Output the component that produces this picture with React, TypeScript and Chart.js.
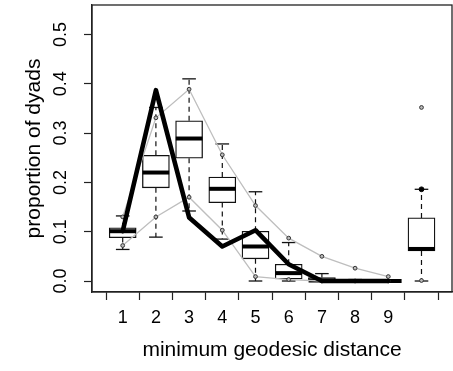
import React, { useEffect, useRef } from 'react';
import { Chart, registerables } from 'chart.js';

Chart.register(...registerables);

// ---- data ----
const positions = [1, 2, 3, 4, 5, 6, 7, 8, 9, 10];
const xTickLabels = ['1', '2', '3', '4', '5', '6', '7', '8', '9', ''];
const yTickValues = [0, 0.1, 0.2, 0.3, 0.4, 0.5];
const yTickLabels = ['0.0', '0.1', '0.2', '0.3', '0.4', '0.5'];

const whiskerLow = [0.064, 0.089, 0.142, 0.085, 0.0, 0.0, 0.0, 0.0, 0.0, 0.0];
const boxQ1 = [0.088, 0.189, 0.249, 0.159, 0.045, 0.004, 0.0, 0.0, 0.0, 0.061];
const boxMedian = [0.101, 0.22, 0.289, 0.187, 0.07, 0.016, 0.001, 0.0, 0.0, 0.065];
const boxQ3 = [0.108, 0.255, 0.325, 0.211, 0.101, 0.034, 0.007, 0.002, 0.0, 0.128];
const whiskerHigh = [0.132, 0.352, 0.41, 0.278, 0.181, 0.078, 0.015, 0.003, 0.001, 0.186];

const simUpper = [0.13, 0.331, 0.389, 0.256, 0.153, 0.087, 0.05, 0.026, 0.009, 0.352];
const simLower = [0.072, 0.13, 0.17, 0.103, 0.009, 0.003, 0.0, 0.0, 0.0, 0.001];

const observed = [0.101, 0.387, 0.129, 0.07, 0.103, 0.034, 0.0, 0.0, 0.0, 0.186];

const xTitle = 'minimum geodesic distance';
const yTitle = 'proportion of dyads';

const FONT = 'Liberation Sans, Arial, Helvetica, sans-serif';

const framePlugin = {
  id: 'frame',
  afterDraw(chart: any) {
    const { ctx, chartArea } = chart;
    const { left, top, right, bottom } = chartArea;
    ctx.save();
    ctx.strokeStyle = '#222';
    ctx.lineWidth = 1.3;
    ctx.strokeRect(left, top, right - left, bottom - top);
    ctx.restore();
  },
};

export default function App() {
  const ref = useRef<HTMLCanvasElement | null>(null);

  useEffect(() => {
    if (!ref.current) return;
    const n = positions.length;
    const lineIdx = positions.slice(0, n - 1);

    const whiskerSets: any[] = [];
    positions.forEach((p, i) => {
      whiskerSets.push({
        type: 'line',
        data: [
          { x: p, y: boxQ3[i] },
          { x: p, y: whiskerHigh[i] },
        ],
        borderColor: '#111',
        borderWidth: 1.2,
        borderDash: [5, 4],
        pointRadius: 0,
        order: 5,
      });
      whiskerSets.push({
        type: 'line',
        data: [
          { x: p, y: boxQ1[i] },
          { x: p, y: whiskerLow[i] },
        ],
        borderColor: '#111',
        borderWidth: 1.2,
        borderDash: [5, 4],
        pointRadius: 0,
        order: 5,
      });
    });

    const chart = new Chart(ref.current, {
      type: 'bar',
      data: {
        datasets: [
          {
            type: 'line',
            data: lineIdx.map((p, i) => ({ x: p, y: observed[i] })),
            borderColor: '#000',
            borderWidth: 4.6,
            borderJoinStyle: 'round',
            borderCapStyle: 'round',
            pointRadius: 0,
            tension: 0,
            order: 0,
          } as any,
          {
            type: 'scatter',
            data: [{ x: positions[n - 1], y: observed[n - 1] }],
            pointRadius: 2.4,
            pointBackgroundColor: '#000',
            pointBorderColor: '#000',
            order: 0,
          },
          {
            type: 'line',
            data: lineIdx.map((p, i) => ({ x: p, y: simUpper[i] })),
            borderColor: '#bebebe',
            borderWidth: 1.3,
            pointRadius: 0,
            tension: 0,
            order: 2,
          },
          {
            type: 'line',
            data: lineIdx.map((p, i) => ({ x: p, y: simLower[i] })),
            borderColor: '#bebebe',
            borderWidth: 1.3,
            pointRadius: 0,
            tension: 0,
            order: 2,
          },
          {
            type: 'scatter',
            data: [
              ...positions.map((p, i) => ({ x: p, y: simUpper[i] })),
              ...positions.map((p, i) => ({ x: p, y: simLower[i] })),
            ],
            pointRadius: 1.9,
            pointBorderWidth: 1,
            pointBorderColor: '#333',
            pointBackgroundColor: '#bbb',
            order: 1,
          },
          {
            type: 'scatter',
            data: positions.map((p, i) => ({ x: p, y: boxMedian[i] })),
            pointStyle: 'line',
            pointRadius: 13.3,
            pointBorderWidth: 4,
            pointBorderColor: '#000',
            order: 3,
          },
          {
            type: 'bar',
            data: positions.map((p, i) => ({ x: p, y: [boxQ1[i], boxQ3[i]] })),
            backgroundColor: '#ffffff',
            borderColor: '#111',
            borderWidth: 1.3,
            borderSkipped: false,
            barThickness: 27,
            order: 4,
          },
          ...whiskerSets,
          {
            type: 'scatter',
            data: [
              ...positions.map((p, i) => ({ x: p, y: whiskerHigh[i] })),
              ...positions.map((p, i) => ({ x: p, y: whiskerLow[i] })),
            ],
            pointStyle: 'line',
            pointRadius: 6.8,
            pointBorderWidth: 1.3,
            pointBorderColor: '#111',
            order: 5,
          },
        ],
      },
      options: {
        animation: false,
        responsive: false,
        events: [],
        layout: { padding: { left: 0, top: 5, right: 1, bottom: 0 }, autoPadding: false },
        plugins: { legend: { display: false }, tooltip: { enabled: false } },
        scales: {
          x: {
            type: 'linear',
            min: 0.0753,
            max: 10.919,
            offset: false,
            afterBuildTicks: (scale: any) => {
              scale.ticks = positions.map((v) => ({ value: v }));
            },
            afterFit: (scale: any) => {
              scale.height = 79;
              scale.paddingLeft = 0;
              scale.paddingRight = 0;
            },
            grid: {
              display: true,
              drawOnChartArea: false,
              drawTicks: true,
              tickLength: 8,
              tickColor: '#222',
              tickWidth: 1.2,
            },
            border: { display: true, color: '#222', width: 1.3 },
            ticks: {
              autoSkip: false,
              maxRotation: 0,
              minRotation: 0,
              padding: 7,
              color: '#000',
              font: { family: FONT, size: 18 },
              callback: (_v: any, i: number) => xTickLabels[i],
            },
            title: {
              display: true,
              text: xTitle,
              color: '#000',
              font: { family: FONT, size: 21 },
              padding: 8,
            },
          },
          y: {
            type: 'linear',
            min: -0.0223,
            max: 0.5598,
            afterBuildTicks: (scale: any) => {
              scale.ticks = yTickValues.map((v) => ({ value: v }));
            },
            afterFit: (scale: any) => {
              scale.width = 92;
              scale.paddingTop = 0;
              scale.paddingBottom = 0;
            },
            grid: {
              display: true,
              drawOnChartArea: false,
              drawTicks: true,
              tickLength: 8,
              tickColor: '#222',
              tickWidth: 1.2,
            },
            border: { display: true, color: '#222', width: 1.3 },
            ticks: {
              autoSkip: false,
              minRotation: 90,
              maxRotation: 90,
              crossAlign: 'center',
              padding: 10,
              color: '#000',
              font: { family: FONT, size: 18 },
              callback: (_v: any, i: number) => yTickLabels[i],
            },
            title: {
              display: true,
              text: yTitle,
              color: '#000',
              font: { family: FONT, size: 21 },
              padding: 22,
            },
          },
        },
      } as any,
      plugins: [framePlugin],
    });
    return () => chart.destroy();
  }, []);

  return (
    <div style={{ position: 'absolute', left: 0, top: 0, width: 453, height: 371, background: '#fff' }}>
      <canvas ref={ref} width={453} height={371} style={{ display: 'block' }} />
    </div>
  );
}
